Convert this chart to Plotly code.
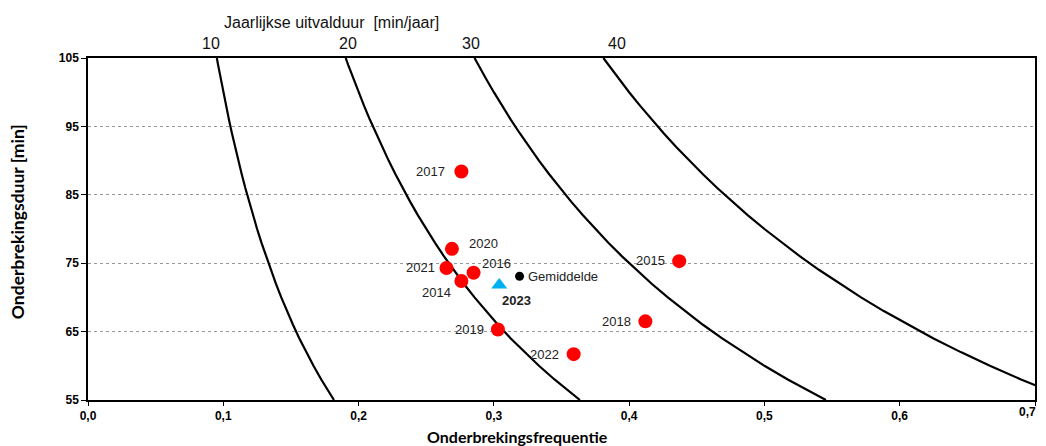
import plotly.graph_objects as go

# Iso-lines of annual outage duration (min/year) = frequency * duration
iso_levels = [10, 20, 30, 40]
duration_samples = [55, 56, 57, 58, 60, 62, 64, 66, 68, 70, 72, 74, 76, 78, 80, 82, 84,
                    86, 88, 90, 92, 94, 96, 98, 100, 102, 104, 105]

years = ["2014", "2015", "2016", "2017", "2018", "2019", "2020", "2021", "2022"]
freq = [0.276, 0.437, 0.285, 0.276, 0.412, 0.303, 0.269, 0.265, 0.359]
dur = [72.4, 75.3, 73.6, 88.4, 66.5, 65.3, 77.1, 74.3, 61.7]

avg_freq, avg_dur = 0.319, 73.1
cur_label, cur_freq, cur_dur = "2023", 0.304, 71.8

x_ticks = [0.0, 0.1, 0.2, 0.3, 0.4, 0.5, 0.6, 0.7]
x_ticktext = ["0,0", "0,1", "0,2", "0,3", "0,4", "0,5", "0,6", "0,7"]
y_ticks = [55, 65, 75, 85, 95, 105]

fig = go.Figure()

for lvl in iso_levels:
    xs = [lvl / d for d in duration_samples]
    fig.add_trace(go.Scatter(x=xs, y=duration_samples, mode="lines",
                             line=dict(color="black", width=2.2), hoverinfo="skip",
                             showlegend=False, cliponaxis=True))

fig.add_trace(go.Scatter(x=freq, y=dur, mode="markers",
                         marker=dict(color="#FF0000", size=14), showlegend=False))
fig.add_trace(go.Scatter(x=[avg_freq], y=[avg_dur], mode="markers",
                         marker=dict(color="black", size=9), showlegend=False))
fig.add_trace(go.Scatter(x=[cur_freq], y=[cur_dur], mode="markers",
                         marker=dict(color="#00B0F0", size=14, symbol="triangle-up"),
                         showlegend=False))

lbl_font = dict(family="Liberation Sans, Arial", size=13, color="#222222")
# label offsets (pixels) per year: (xanchor, xshift, yshift)
offsets = {
    "2014": ("right", -8, -12),
    "2015": ("right", -12, 1),
    "2016": ("left", 6, 9),
    "2017": ("right", -14, 0),
    "2018": ("right", -12, 0),
    "2019": ("right", -12, 0),
    "2020": ("left", 15, 5),
    "2021": ("right", -10, 0),
    "2022": ("right", -13, 0),
}
for yr, fx, dy in zip(years, freq, dur):
    xa, xs, ys = offsets[yr]
    fig.add_annotation(x=fx, y=dy, text=yr, showarrow=False, xanchor=xa,
                       xshift=xs, yshift=ys, font=lbl_font)
fig.add_annotation(x=avg_freq, y=avg_dur, text="Gemiddelde", showarrow=False,
                   xanchor="left", xshift=6, yshift=0, font=lbl_font)
fig.add_annotation(x=cur_freq, y=cur_dur, text="<b>" + cur_label + "</b>", showarrow=False,
                   xanchor="left", xshift=1, yshift=-15, font=lbl_font)

# top labels of iso-lines
top_shift = {10: -6, 20: 2, 30: -4, 40: 14}
for lvl in iso_levels:
    fig.add_annotation(x=lvl / 105, y=1, xref="x", yref="paper", yanchor="bottom",
                       text=str(lvl), showarrow=False, xshift=top_shift[lvl], yshift=4,
                       font=dict(family="Liberation Sans, Arial", size=16, color="#111111"))
fig.add_annotation(x=0.18, y=1, xref="x", yref="paper", yanchor="bottom",
                   text="Jaarlijkse uitvalduur  [min/jaar]", showarrow=False, yshift=25,
                   font=dict(family="Liberation Sans, Arial", size=16, color="#111111"))

# axis titles
fig.add_annotation(x=0.454, y=0.0, xref="paper", yref="paper", yanchor="top",
                   yshift=-25, text="<b>Onderbrekingsfrequentie</b>", showarrow=False,
                   font=dict(family="Lato", size=16, color="black"))
fig.add_annotation(x=0, y=0.52, xref="paper", yref="paper", xanchor="center",
                   xshift=-71, text="<b>Onderbrekingsduur [min]</b>", showarrow=False,
                   textangle=-90, font=dict(family="Lato", size=17.5, color="black"))

tick_font = dict(family="Liberation Sans, Arial", size=12, color="black", weight="bold")

# last x tick label is right-aligned to the plot edge (as in the reference)
shown_ticktext = x_ticktext[:-1] + [""]
fig.add_annotation(x=x_ticks[-1], y=0, xref="x", yref="paper", xanchor="right",
                   yanchor="top", xshift=3, yshift=-3, text=x_ticktext[-1], showarrow=False,
                   font=tick_font)

fig.update_xaxes(range=[0, 0.7], tickvals=x_ticks, ticktext=shown_ticktext, automargin=False,
                 showgrid=False, zeroline=False, showline=True, linecolor="black",
                 linewidth=1.5, mirror=True, ticks="outside", ticklen=4, tickcolor="black",
                 tickfont=tick_font)
fig.update_yaxes(range=[55, 105], tickvals=y_ticks, automargin=False,
                 showgrid=True, gridcolor="#999999", griddash="dot", gridwidth=1,
                 zeroline=False, showline=True, linecolor="black", linewidth=1.5,
                 mirror=True, ticks="outside", ticklen=5, tickcolor="black",
                 tickfont=tick_font)

# page has an 8px body margin, so the figure is 8px smaller than the window
fig.update_layout(width=1038, height=438, plot_bgcolor="white", paper_bgcolor="white",
                  margin=dict(l=80, r=11, t=50, b=46), showlegend=False)

fig.write_html("out.html")
